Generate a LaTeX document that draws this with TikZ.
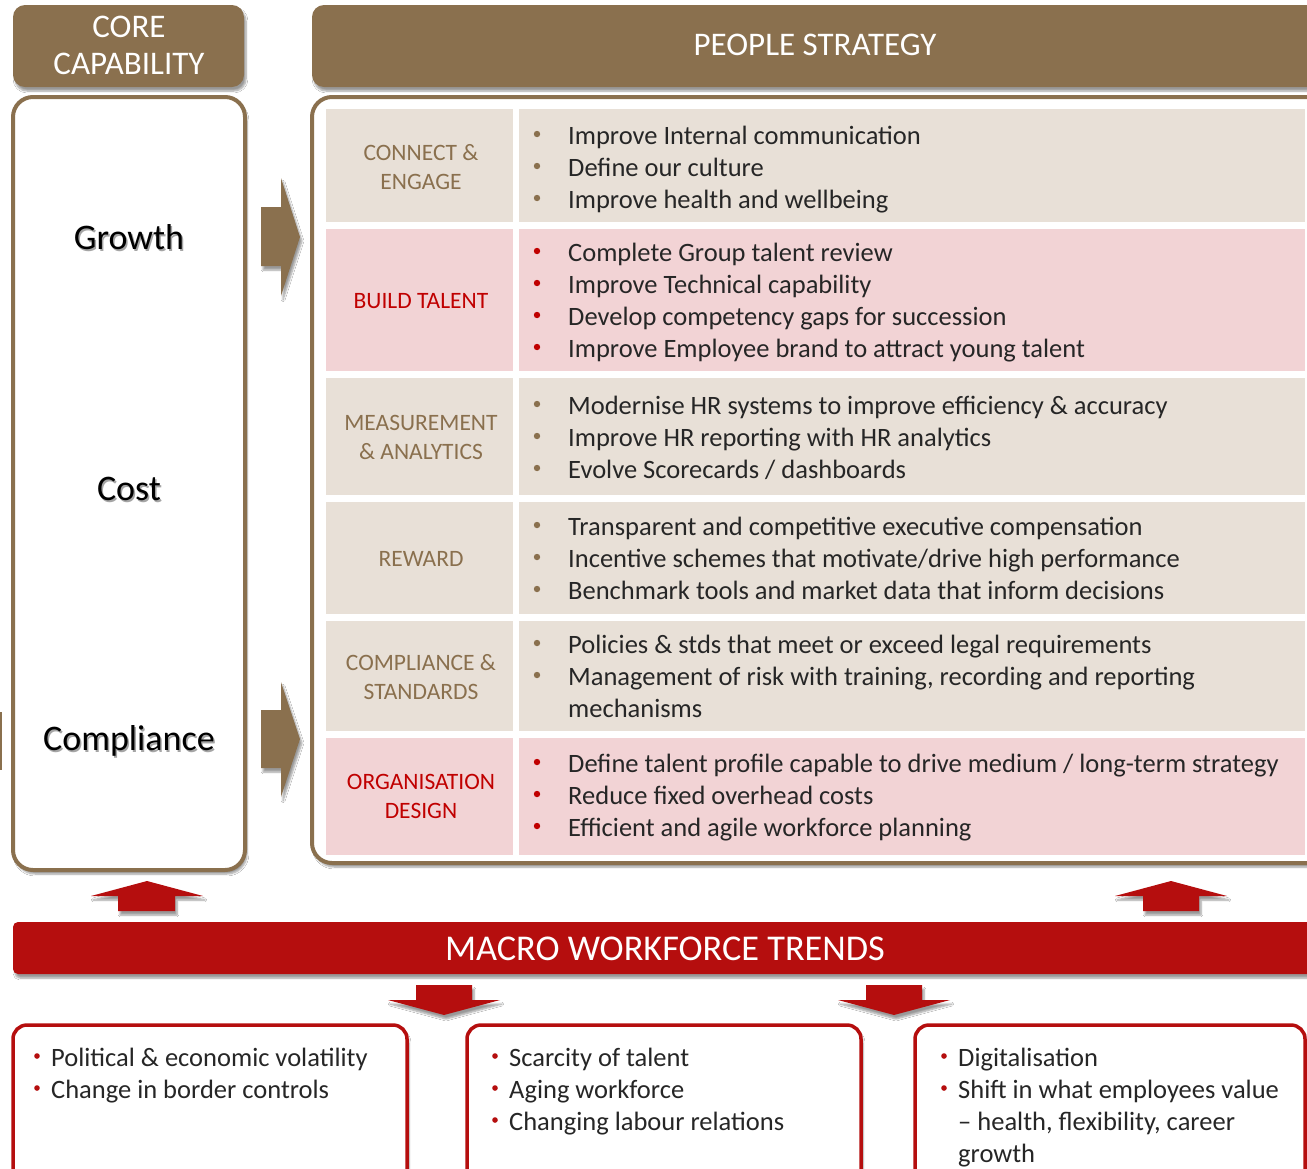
\documentclass[tikz,border=0pt]{standalone}
\usepackage{fontspec}
\setmainfont{Carlito}
\usetikzlibrary{shadows.blur}
\definecolor{brn}{RGB}{138,112,78}
\definecolor{beige}{RGB}{232,224,215}
\definecolor{pinkrow}{RGB}{242,211,213}
\definecolor{banner}{RGB}{181,14,14}
\definecolor{redtxt}{RGB}{192,0,0}
\definecolor{bodytxt}{RGB}{38,38,38}
\tikzset{
  x=1pt, y=-1pt,
  shad/.style={blur shadow={shadow xshift=2pt, shadow yshift=-4pt, shadow opacity=40, shadow blur steps=6}},
  hdr/.style={fill=brn, rounded corners=12pt, shad},
  hdrtext/.style={text=white, font=\fontsize{33}{37}\selectfont, align=center, inner sep=0pt},
  framebox/.style={draw=brn, line width=4pt, fill=white, rounded corners=20pt, shad},
  trendbox/.style={draw=banner, line width=3.5pt, fill=white, rounded corners=14pt, shad},
  capword/.style={font=\fontsize{36}{40}\selectfont, inner sep=0pt},
  rowlabel/.style={font=\fontsize{23.5}{29}\selectfont, align=center, inner sep=0pt},
  bodyline/.style={anchor=base west, text=bodytxt, font=\fontsize{26.5}{32}\selectfont, inner sep=0pt},
  blockarrow/.style={fill=brn, shad},
  redarrow/.style={fill=banner, shad},
}
\begin{document}
\begin{tikzpicture}
\clip (0,0) rectangle (1307,1168);
\fill[white] (0,0) rectangle (1307,1168);

% headers
\fill[hdr] (13,5) rectangle (244,87);
\node[hdrtext] (corehdr) at (129,45) {CORE\\CAPABILITY};
\fill[hdr] (312,5) rectangle (1340,87);
\node[hdrtext] (peoplehdr) at (815,45) {PEOPLE STRATEGY};

% core capability column
\path[framebox] (13,97) rectangle (245,870);
\foreach \nm/\yy/\word in {growth/237/Growth, cost/489/Cost, compliance/741/Compliance}{
  \node[capword, text=black!50, opacity=0.7] at (130.5,\yy+1.8) {\word};
  \node[capword] (\nm) at (129,\yy) {\word};
}
\fill[brn] (-5,712) rectangle (1.5,770);

% arrows into people strategy
\path[blockarrow] (261,207) -- (281,207) -- (281,178) -- (300,237) -- (281,296) -- (281,266) -- (261,266) -- cycle;
\path[blockarrow] (261,710) -- (281,710) -- (281,682) -- (300,739) -- (281,797) -- (281,768) -- (261,768) -- cycle;

% people strategy frame and rows
\path[framebox] (312,97) rectangle (1340,863);
\foreach \ya/\yb/\col in {109/222/beige, 229/371/pinkrow, 378/495/beige, 502/614/beige, 621/731/beige, 738/855/pinkrow}{
  \fill[\col] (326,\ya) rectangle (513,\yb);
  \fill[\col] (519,\ya) rectangle (1305,\yb);
}

% row labels
\node[rowlabel, text=brn] (lconnect) at (421,167) {CONNECT \&\\ENGAGE};
\node[rowlabel, text=redtxt] (ltalent) at (421,301) {BUILD TALENT};
\node[rowlabel, text=brn] (lmeasure) at (421,437) {MEASUREMENT\\\& ANALYTICS};
\node[rowlabel, text=brn] (lreward) at (421,559) {REWARD};
\node[rowlabel, text=brn] (lcompl) at (421,677) {COMPLIANCE \&\\STANDARDS};
\node[rowlabel, text=redtxt] (lorg) at (421,796) {ORGANISATION\\DESIGN};

% row contents
\foreach \yy/\txt/\bc in {
  144/{Improve Internal communication}/brn,
  176/{Define our culture}/brn,
  208/{Improve health and wellbeing}/brn,
  261/{Complete Group talent review}/redtxt,
  293/{Improve Technical capability}/redtxt,
  325/{Develop competency gaps for succession}/redtxt,
  357/{Improve Employee brand to attract young talent}/redtxt,
  414/{Modernise HR systems to improve efficiency \& accuracy}/brn,
  446/{Improve HR reporting with HR analytics}/brn,
  478/{Evolve Scorecards / dashboards}/brn,
  535/{Transparent and competitive executive compensation}/brn,
  567/{Incentive schemes that motivate/drive high performance}/brn,
  599/{Benchmark tools and market data that inform decisions}/brn,
  653/{Policies \& stds that meet or exceed legal requirements}/brn,
  685/{Management of risk with training, recording and reporting}/brn,
  772/{Define talent profile capable to drive medium / long-term strategy}/redtxt,
  804/{Reduce fixed overhead costs}/redtxt,
  836/{Efficient and agile workforce planning}/redtxt}{
  \fill[\bc] (537,\yy-10) circle (3.2);
  \node[bodyline] (item-\yy) at (568,\yy) {\txt};
}
\node[bodyline] (item-717) at (568,717) {mechanisms};

% up arrows from the trends banner
\path[redarrow] (118,911) -- (118,896) -- (91,896) -- (147,881) -- (203,896) -- (175,896) -- (175,911) -- cycle;
\path[redarrow] (1143,911) -- (1143,896) -- (1115,896) -- (1171,881) -- (1227,896) -- (1199,896) -- (1199,911) -- cycle;

% trends banner
\fill[banner, rounded corners=5pt, shad] (13,922) rectangle (1340,974);
\node[hdrtext, font=\fontsize{36.3}{40}\selectfont] (trends) at (665,949) {MACRO WORKFORCE TRENDS};

% down arrows
\path[redarrow] (416,985) -- (472,985) -- (472,1000) -- (500,1000) -- (444,1015) -- (388,1000) -- (416,1000) -- cycle;
\path[redarrow] (866,985) -- (922,985) -- (922,1000) -- (950,1000) -- (894,1015) -- (838,1000) -- (866,1000) -- cycle;

% trend boxes
\path[trendbox] (13,1025) rectangle (407,1200);
\path[trendbox] (467,1025) rectangle (861,1200);
\path[trendbox] (915,1025) rectangle (1305,1200);

\foreach \xb/\yy/\txt in {
  37/1066/{Political \& economic volatility},
  37/1098/{Change in border controls},
  495/1066/{Scarcity of talent},
  495/1098/{Aging workforce},
  495/1130/{Changing labour relations},
  944/1066/{Digitalisation},
  944/1098/{Shift in what employees value}}{
  \fill[banner] (\xb,\yy-10) circle (2.8);
  \node[bodyline] (trend-\xb-\yy) at (\xb+14,\yy) {\txt};
}
\node[bodyline] (trend-cont1) at (958,1130) {– health, flexibility, career};
\node[bodyline] (trend-cont2) at (958,1162) {growth};
\end{tikzpicture}
\end{document}
